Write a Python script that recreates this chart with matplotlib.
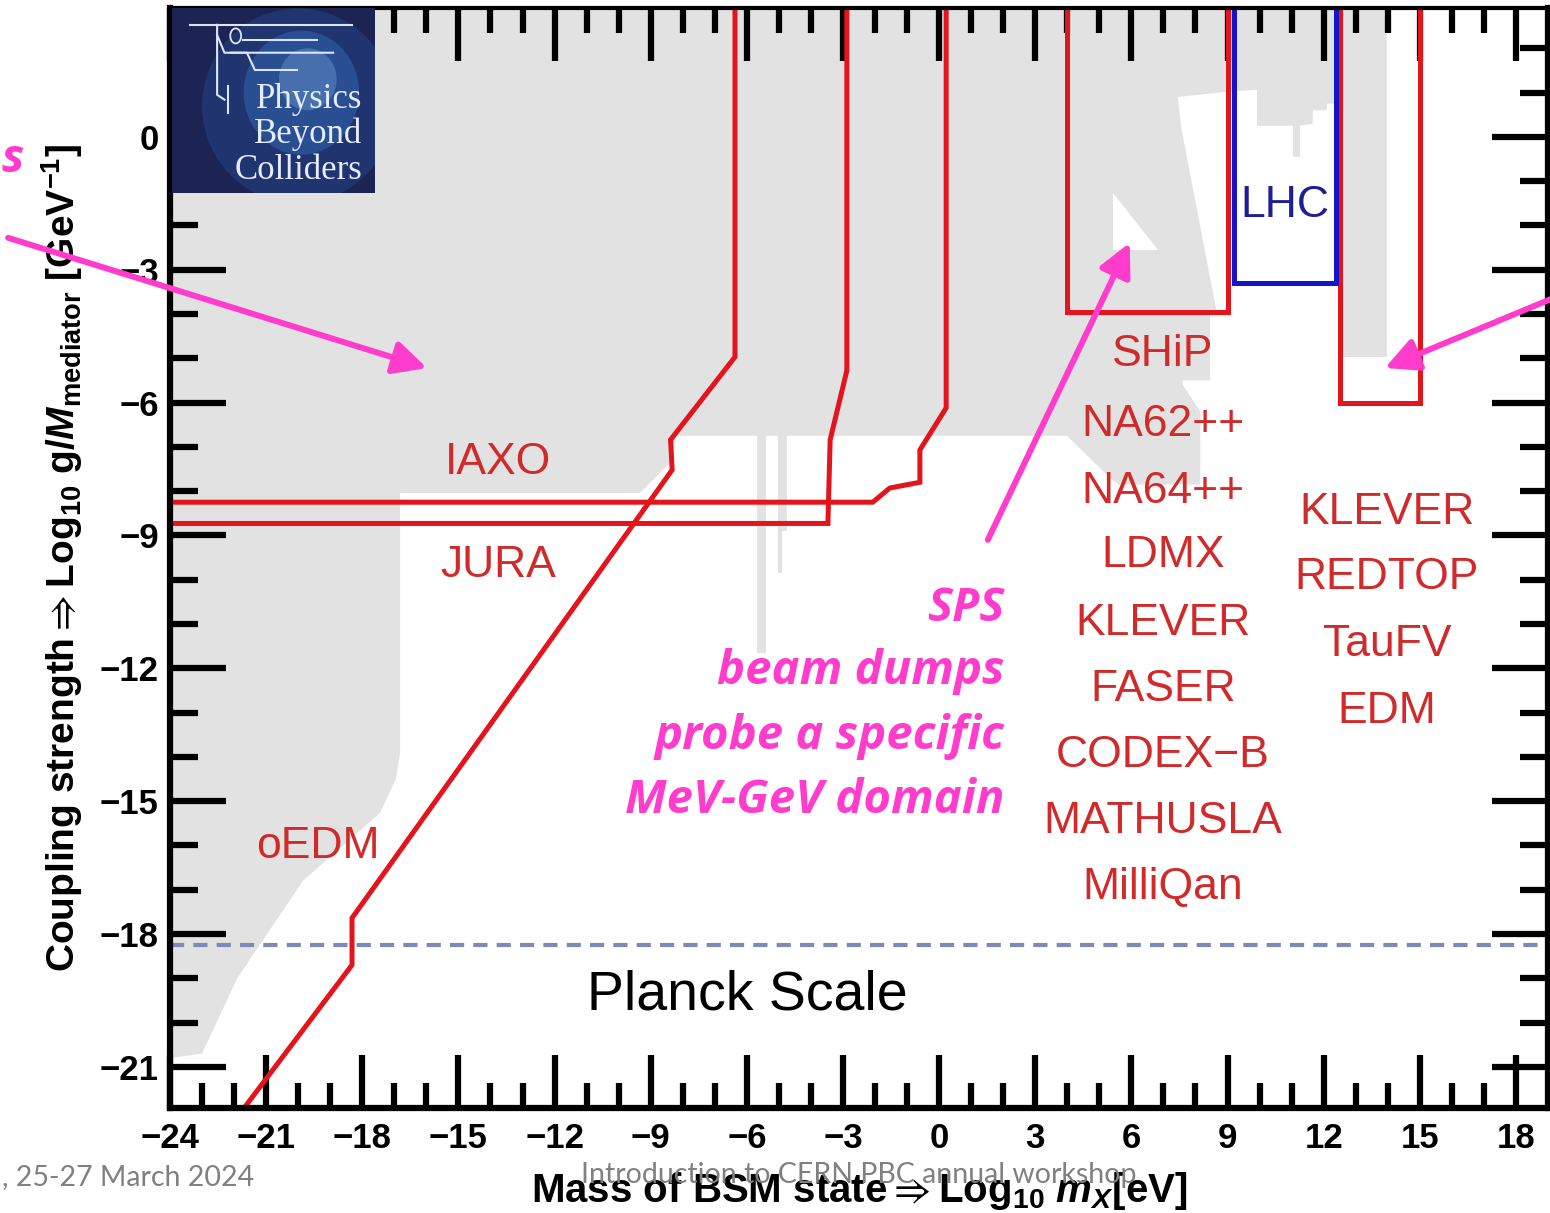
import matplotlib
matplotlib.use('Agg')
import matplotlib.pyplot as plt
from matplotlib.patches import Polygon, Rectangle, Ellipse, Circle
import numpy as np

plt.rcParams['font.family'] = ['Liberation Sans', 'DejaVu Sans']
plt.rcParams['mathtext.fontset'] = 'custom'
plt.rcParams['mathtext.rm'] = 'Liberation Sans:bold'
plt.rcParams['mathtext.it'] = 'Liberation Sans:bold:italic'
plt.rcParams['mathtext.bf'] = 'Liberation Sans:bold'
plt.rcParams['mathtext.sf'] = 'Liberation Sans:bold'
plt.rcParams['mathtext.fallback'] = 'stixsans'

# ---------------- data ----------------
# excluded (grey) region outline
excluded_x = [-24, -24, -23.0, -21.9, -19.85, -17.45, -16.95, -16.82, -16.82, -9.33, -8.4, -8.2,
              -5.68, -5.68, -5.40, -5.40, -5.03, -5.03, -4.9, -4.9, -4.75, -4.75,
              3.99, 5.33, 5.6, 8.15, 8.15, 7.6, 7.6, 8.45, 8.45, 8.66, 7.55, 7.45, 9.0,
              9.92, 9.92, 11.04, 11.04, 11.26, 11.26, 11.66, 11.66, 12.1, 12.1, 12.45, 12.45,
              13.97, 13.97]
excluded_y = [3.5, -20.8, -20.7, -19.0, -16.8, -15.27, -14.5, -13.9, -8.04, -8.04, -7.36, -6.75,
              -6.75, -11.66, -11.66, -6.75, -6.75, -9.85, -9.85, -8.9, -8.9, -6.75,
              -6.75, -7.7, -7.85, -7.85, -6.2, -5.6, -5.5, -5.5, -3.95, -3.95, 0.23, 0.9, 1.02,
              1.06, 0.25, 0.25, -0.45, -0.45, 0.25, 0.3, 0.6, 0.6, 0.75, 0.75, -4.97,
              -4.97, 3.5]
hole_x = [5.42, 5.42, 6.83]
hole_y = [-1.27, -2.55, -2.55]

iaxo_x = [-24, -2.07, -1.54, -0.60, -0.60, 0.22, 0.22]
iaxo_y = [-8.25, -8.25, -7.93, -7.80, -7.07, -6.12, 3.5]
jura_x = [-24, -3.47, -3.40, -2.88, -2.88]
jura_y = [-8.73, -8.73, -6.84, -5.28, 3.5]
oedm_x = [-22.7, -18.32, -18.32, -8.33, -8.38, -6.37, -6.37]
oedm_y = [-22.9, -18.7, -17.64, -7.52, -6.84, -4.97, 3.5]

ship_box_x = [4.0, 4.0, 9.0, 9.0]
ship_box_y = [3.5, -3.95, -3.95, 3.5]
lhc_box_x = [9.2, 9.2, 12.38, 12.38]
lhc_box_y = [3.5, -3.3, -3.3, 3.5]
klever_box_x = [12.5, 12.5, 15.0, 15.0]
klever_box_y = [3.5, -6.0, -6.0, 3.5]

planck_y = -18.25

sps_labels = ['SHiP', 'NA62++', 'NA64++', 'LDMX', 'KLEVER', 'FASER', 'CODEX\u2212B', 'MATHUSLA', 'MilliQan']
sps_label_x = 6.98
sps_label_y = [-4.92, -6.50, -8.00, -9.46, -10.98, -12.47, -13.96, -15.45, -16.94]
kaon_labels = ['KLEVER', 'REDTOP', 'TauFV', 'EDM']
kaon_label_x = 13.97
kaon_label_y = [-8.49, -9.96, -11.47, -12.97]

pink_lines = ['SPS', 'beam dumps', 'probe a specific', 'MeV-GeV domain']
pink_x = 2.05
pink_y = [-10.64, -12.08, -13.53, -14.98]

xticks = np.arange(-24, 19, 3)
xminor = np.arange(-24, 19, 1)
yticks = np.arange(-21, 1, 3)
yminor = np.arange(-21, 3, 1)

# ---------------- colours ----------------
GREY = '#e2e2e2'
RED = '#e3141b'
RED_TXT = '#d02a2a'
BLUE = '#1414c8'
BLUE_TXT = '#1e1e96'
PINK = '#ff3ccc'
PINK_FONT = ['Open Sans', 'Lato', 'DejaVu Sans']

fig = plt.figure(figsize=(15.5, 12.13), dpi=100)
ax = fig.add_axes([170/1550, 1-1108/1213, 1378/1550, 1100/1213])
ax.set_xlim(-24, 19)
ax.set_ylim(-21.93, 2.91)

ax.add_patch(Polygon(np.column_stack([excluded_x, excluded_y]), closed=True,
                     facecolor=GREY, edgecolor='none', zorder=1))
ax.add_patch(Polygon(np.column_stack([hole_x, hole_y]), closed=True,
                     facecolor='white', edgecolor='none', zorder=1.1))

lw = 3.6
for xs, ys in [(iaxo_x, iaxo_y), (jura_x, jura_y), (oedm_x, oedm_y),
               (ship_box_x, ship_box_y), (klever_box_x, klever_box_y)]:
    ax.plot(xs, ys, color=RED, lw=lw, zorder=2, solid_joinstyle='miter')
ax.plot(lhc_box_x, lhc_box_y, color=BLUE, lw=lw, zorder=2, solid_joinstyle='miter')

ax.axhline(planck_y, color='#7b8bb5', lw=3.0, dashes=(3.4, 2.2), zorder=2)

# labels
ax.text(-13.77, -7.36, 'IAXO', color=RED_TXT, fontsize=32, ha='center', va='center', zorder=3)
ax.text(-13.77, -9.69, 'JURA', color=RED_TXT, fontsize=32, ha='center', va='center', zorder=3)
ax.text(-19.38, -16.02, 'oEDM', color=RED_TXT, fontsize=32, ha='center', va='center', zorder=3)
for lab, yy in zip(sps_labels, sps_label_y):
    ax.text(sps_label_x, yy, lab, color=RED_TXT, fontsize=32, ha='center', va='center', zorder=3)
for lab, yy in zip(kaon_labels, kaon_label_y):
    ax.text(kaon_label_x, yy, lab, color=RED_TXT, fontsize=32, ha='center', va='center', zorder=3)
ax.text(10.79, -1.54, 'LHC', color=BLUE_TXT, fontsize=32, ha='center', va='center', zorder=3)
ax.text(-5.97, -19.38, 'Planck Scale', color='black', fontsize=40, ha='center', va='center', zorder=3)

for line, yy in zip(pink_lines, pink_y):
    ax.text(pink_x, yy, line, color=PINK, fontsize=34, ha='right', va='center',
            family=PINK_FONT, fontweight='bold', style='italic', zorder=6)

# arrows
arrow_kw = dict(arrowstyle='-|>,head_length=1.0,head_width=0.5', mutation_scale=20,
                lw=4.3, color=PINK, shrinkA=0, shrinkB=0)
for tip, start in [((-15.98, -5.22), (-29.05, -2.28)),
                   ((5.95, -2.39), (1.52, -9.10)),
                   ((13.91, -5.22), (19.1, -3.66))]:
    ax.annotate('', xy=tip, xytext=start, arrowprops=arrow_kw, annotation_clip=False, zorder=7)

# logo
logo = Rectangle((-23.95, -1.26), 6.35, 4.5, facecolor='#1b2452', edgecolor='none', zorder=5)
ax.add_patch(logo)
for (cx, cy, w, h, c, a) in [(-20.0, 0.7, 6.0, 4.4, '#2a55a8', 0.35),
                             (-19.9, 1.0, 3.6, 2.8, '#3f7fd4', 0.35),
                             (-19.7, 1.3, 1.8, 1.4, '#8cbcf0', 0.3)]:
    e = Ellipse((cx, cy), w, h, facecolor=c, edgecolor='none', alpha=a, zorder=5.1)
    ax.add_patch(e)
    e.set_clip_path(logo)
lc = '#d8e6ff'
ax.plot([-23.38, -18.32], [2.53, 2.53], color=lc, lw=1.5, zorder=5.2)
ax.plot([-22.53, -22.53, -22.3], [2.53, 0.95, 0.84], color=lc, lw=1.5, zorder=5.2)
ax.plot([-21.72, -19.41], [2.19, 2.19], color=lc, lw=1.5, zorder=5.2)
ax.add_patch(Circle((-21.95, 2.28), 0.17, facecolor='none', edgecolor=lc, lw=1.3, zorder=5.2))
ax.plot([-22.53, -22.3, -18.91], [2.3, 1.90, 1.90], color=lc, lw=1.5, zorder=5.2)
ax.plot([-22.1, -21.6, -21.35, -20.04], [1.90, 1.90, 1.51, 1.51], color=lc, lw=1.5, zorder=5.2)
ax.plot([-22.2, -22.2], [1.15, 0.55], color=lc, lw=1.5, zorder=5.2)
for t, yy in zip(['Physics', 'Beyond', 'Colliders'], [0.84, 0.05, -0.75]):
    ax.text(-18.0, yy, t, color='#e4ecff', fontsize=25, ha='right', va='center',
            family=['Liberation Serif', 'DejaVu Serif'], zorder=5.3)

# axes styling
ax.set_xticks(xticks)
ax.set_xticks(xminor, minor=True)
ax.set_yticks(yticks)
ax.set_yticks(yminor, minor=True)
ax.tick_params(axis='x', which='major', direction='in', length=38, width=4.5,
               top=True, bottom=True, labelsize=25, pad=10)
ax.tick_params(axis='x', which='minor', direction='in', length=18, width=4.5, top=True, bottom=True)
ax.tick_params(axis='y', which='major', direction='in', length=40, width=4.5,
               left=True, right=True, labelsize=25, pad=8)
ax.tick_params(axis='y', which='minor', direction='in', length=20, width=4.5, left=True, right=True)
for lab in ax.get_xticklabels() + ax.get_yticklabels():
    lab.set_fontweight('bold')
for s in ['left', 'bottom', 'right']:
    ax.spines[s].set_linewidth(4.5)
ax.spines['top'].set_linewidth(3)

ax.set_xlabel(r'Mass of BSM state$\Rightarrow$Log$_{10}$ $m_X$[eV]', fontsize=29, fontweight='bold')
ax.xaxis.set_label_coords(0.5, -0.056)
ax.set_ylabel(r'Coupling strength$\Rightarrow$Log$_{10}$ g/$M_{\rm mediator}$ [GeV$^{-1}$]',
              fontsize=28, fontweight='bold')
ax.yaxis.set_label_coords(-0.062, 0.5)

# slide decorations
fig.text(1/1550, 1-160/1213, 's', color=PINK, fontsize=34, ha='left', va='center',
         family=PINK_FONT, fontweight='bold', style='italic')
fig.text(2/1550, 1-1177/1213, ', 25-27 March 2024', color='#808080', fontsize=20.5,
         ha='left', va='center', family=['Lato', 'DejaVu Sans'])
fig.text(859/1550, 1-1175/1213, 'Introduction to CERN PBC annual workshop', color='#808080',
         fontsize=20.5, ha='center', va='center', family=['Lato', 'DejaVu Sans'], zorder=10)

fig.savefig('out.png', dpi=100, facecolor='white')
